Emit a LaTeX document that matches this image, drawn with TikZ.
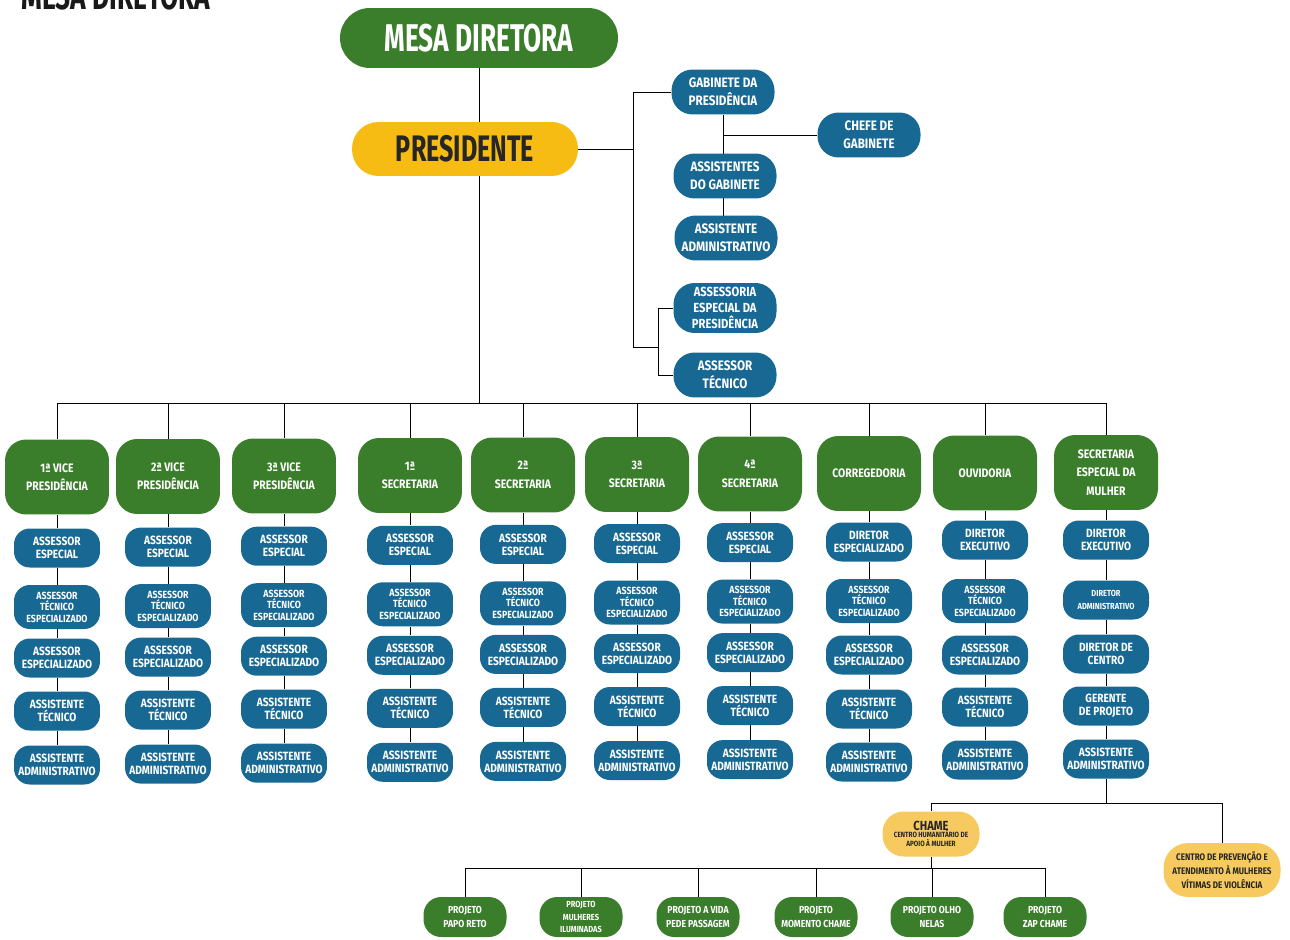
\documentclass[tikz,border=0pt]{standalone}
\usepackage{fontspec}
\setmainfont{Fira Sans}[FakeStretch=0.85]
\newfontfamily\condfont{Fira Sans}[FakeStretch=0.68]
\usetikzlibrary{backgrounds}
\definecolor{orggreen}{RGB}{58,125,42}
\definecolor{orgyellow}{RGB}{246,188,20}
\definecolor{orgblue}{RGB}{24,104,148}
\definecolor{orgpeach}{RGB}{247,202,96}
\tikzset{
  conn/.style={line width=2pt, black},
  ttl/.style={text=black!90, inner sep=0pt, font=\condfont\bfseries\fontsize{22}{24}\selectfont},
  mesa/.style={fill=orggreen, text=white, rounded corners=17pt, minimum width=5.56cm, minimum height=1.2cm,
    font=\condfont\bfseries\fontsize{22}{24}\selectfont},
  pres/.style={fill=orgyellow, text=black!85, rounded corners=15pt, minimum width=4.52cm, minimum height=1.08cm,
    font=\condfont\bfseries\fontsize{21}{23}\selectfont},
  presb/.style={fill=orgblue, text=white, rounded corners=12pt, minimum width=2.06cm, minimum height=0.9cm,
    inner sep=1pt, align=center, font=\bfseries\fontsize{7.8}{10}\selectfont},
  presbiii/.style={presb, minimum height=1.0cm, font=\bfseries\fontsize{7.5}{9}\selectfont},
  head/.style={fill=orggreen, text=white, rounded corners=12pt, minimum width=2.08cm, minimum height=1.5cm,
    inner sep=1pt, align=center, font=\bfseries\fontsize{7}{10.5}\selectfont},
  blue/.style={fill=orgblue, text=white, rounded corners=9pt, minimum width=1.72cm, minimum height=0.78cm,
    inner sep=1pt, align=center, font=\bfseries\fontsize{6.8}{7.4}\selectfont},
  bluesm/.style={blue, minimum height=0.88cm, font=\bfseries\fontsize{5.9}{6.6}\selectfont},
  peach/.style={fill=orgpeach, text=black!85, rounded corners=12pt, minimum width=1.94cm, minimum height=0.9cm,
    inner sep=1pt, align=center},
  proj/.style={fill=orggreen, text=white, rounded corners=10pt, minimum width=1.66cm, minimum height=0.8cm,
    inner sep=1pt, align=center, font=\bfseries\fontsize{5.8}{8}\selectfont},
}
\begin{document}
\begin{tikzpicture}[x=0.02cm, y=-0.02cm]
\useasboundingbox (0,0) rectangle (1290,939);

% heading and top of the hierarchy
\node[ttl, anchor=base west] (ttl) at (21,10) {MESA DIRETORA};
\node[mesa] (mesa) at (479,38) {MESA DIRETORA};
\node[pres] (pres) at (465,149) {PRESIDENTE};
\coordinate (bus) at (480,403);

% offices attached to the presidency
\node[presb] (gab) at (723,92) {GABINETE DA\\PRESIDÊNCIA};
\node[presb] (chefe) at (869,135) {CHEFE DE\\GABINETE};
\node[presb] (asg) at (725,176) {ASSISTENTES\\DO GABINETE};
\node[presb] (adm) at (726,238) {ASSISTENTE\\ADMINISTRATIVO};
\node[presbiii] (aep) at (725,308) {ASSESSORIA\\ESPECIAL DA\\PRESIDÊNCIA};
\node[presb] (atec) at (725,375) {ASSESSOR\\TÉCNICO};
\coordinate (jA) at (633,347);
\coordinate (jB) at (658,347);

% column heads
\foreach \i/\x/\hd in {1/57/{1ª VICE\\PRESIDÊNCIA},2/168/{2ª VICE\\PRESIDÊNCIA},3/284/{3ª VICE\\PRESIDÊNCIA},
  4/410/{1ª\\SECRETARIA},5/523/{2ª\\SECRETARIA},6/637/{3ª\\SECRETARIA},7/750/{4ª\\SECRETARIA},
  8/869/{CORREGEDORIA},9/985/{OUVIDORIA},10/1106/{SECRETARIA\\ESPECIAL DA\\MULHER}}{
  \pgfmathsetmacro\hy{477-0.5*(\i-1)}
  \node[head] (h\i) at (\x,\hy) {\hd};
}

% staff of the vice-presidencies and secretariats
\foreach \i/\x in {1/57,2/168,3/284,4/410,5/523,6/637,7/750}{
  \pgfmathsetmacro\d{-0.9*(\i-1)}
  \node[blue] (b\i r1) at (\x,548+\d) {ASSESSOR\\ESPECIAL};
  \node[bluesm] (b\i r2) at (\x,607+\d) {ASSESSOR\\TÉCNICO\\ESPECIALIZADO};
  \node[blue] (b\i r3) at (\x,658+\d) {ASSESSOR\\ESPECIALIZADO};
  \node[blue] (b\i r4) at (\x,711+\d) {ASSISTENTE\\TÉCNICO};
  \node[blue] (b\i r5) at (\x,765+\d) {ASSISTENTE\\ADMINISTRATIVO};
}

% Corregedoria
\node[blue] (b8r1) at (869,542) {DIRETOR\\ESPECIALIZADO};
\node[bluesm] (b8r2) at (869,601) {ASSESSOR\\TÉCNICO\\ESPECIALIZADO};
\node[blue] (b8r3) at (869,655) {ASSESSOR\\ESPECIALIZADO};
\node[blue] (b8r4) at (869,709) {ASSISTENTE\\TÉCNICO};
\node[blue] (b8r5) at (869,762) {ASSISTENTE\\ADMINISTRATIVO};

% Ouvidoria
\node[blue] (b9r1) at (985,540) {DIRETOR\\EXECUTIVO};
\node[bluesm] (b9r2) at (985,601) {ASSESSOR\\TÉCNICO\\ESPECIALIZADO};
\node[blue] (b9r3) at (985,655) {ASSESSOR\\ESPECIALIZADO};
\node[blue] (b9r4) at (985,707) {ASSISTENTE\\TÉCNICO};
\node[blue] (b9r5) at (985,760) {ASSISTENTE\\ADMINISTRATIVO};

% Secretaria Especial da Mulher
\node[blue] (b10r1) at (1106,540) {DIRETOR\\EXECUTIVO};
\node[blue, font=\bfseries\fontsize{5}{7}\selectfont] (b10r2) at (1106,600) {DIRETOR\\ADMINISTRATIVO};
\node[blue] (b10r3) at (1106,654) {DIRETOR DE\\CENTRO};
\node[blue] (b10r4) at (1106,706) {GERENTE\\DE PROJETO};
\node[blue] (b10r5) at (1106,759) {ASSISTENTE\\ADMINISTRATIVO};

% centres and projects
\coordinate (busB) at (1106,803);
\coordinate (busC) at (700,868);
\node[peach, font=\bfseries\fontsize{4.3}{5.2}\selectfont] (chame) at (931,834)
  {\fontsize{7.5}{8}\selectfont CHAME\\[-1pt]CENTRO HUMANITÁRIO DE\\APOIO À MULHER};
\node[peach, minimum width=2.34cm, minimum height=1.08cm, rounded corners=14pt,
  font=\bfseries\fontsize{5.4}{8}\selectfont] (centro) at (1222,870)
  {CENTRO DE PREVENÇÃO E\\ATENDIMENTO À MULHERES\\VÍTIMAS DE VIOLÊNCIA};
\node[proj] (p1) at (465,917) {PROJETO\\PAPO RETO};
\node[proj, font=\bfseries\fontsize{5}{7}\selectfont] (p2) at (581,917) {PROJETO\\MULHERES\\ILUMINADAS};
\node[proj] (p3) at (698,917) {PROJETO A VIDA\\PEDE PASSAGEM};
\node[proj] (p4) at (816,917) {PROJETO\\MOMENTO CHAME};
\node[proj] (p5) at (932,917) {PROJETO OLHO\\NELAS};
\node[proj] (p6) at (1045,917) {PROJETO\\ZAP CHAME};

% connectors, behind the boxes
\begin{scope}[on background layer, conn]
  \draw (mesa) -- (mesa |- bus);
  \draw (pres) -- (pres -| jA);
  \draw (jA |- gab) -- (jA) -- (jB);
  \draw (jA |- gab) -- (gab);
  \draw (jB |- aep) -- (jB |- atec);
  \draw (jB |- aep) -- (aep);
  \draw (jB |- atec) -- (atec);
  \draw (gab) -- (gab |- adm);
  \draw (gab |- chefe) -- (chefe);
  \draw (h1 |- bus) -- (h10 |- bus);
  \foreach \i in {1,...,10}
    \draw (h\i |- bus) -- (h\i) -- (b\i r1) -- (b\i r2) -- (b\i r3) -- (b\i r4) -- (b\i r5);
  \draw (b10r5) -- (b10r5 |- busB);
  \draw (chame |- busB) -- (centro |- busB) -- (centro);
  \draw (chame |- busB) -- (chame) -- (chame |- busC);
  \draw (p1 |- busC) -- (p6 |- busC);
  \foreach \p in {p1,p2,p3,p4,p5,p6}
    \draw (\p |- busC) -- (\p);
\end{scope}
\end{tikzpicture}
\end{document}
